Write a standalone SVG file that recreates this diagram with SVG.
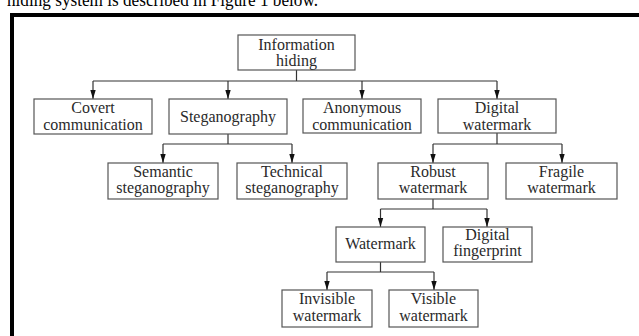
<svg xmlns="http://www.w3.org/2000/svg" width="639" height="336" viewBox="0 0 639 336">
<style>
.box{fill:#fff;stroke:#555;stroke-width:1.2}
.t{font-family:"Liberation Serif","DejaVu Serif",serif;font-size:16px;fill:#2a2a2a;text-anchor:middle}
.c{fill:none;stroke:#333;stroke-width:1.2}
</style>
<defs>
<marker id="ah" viewBox="0 0 10 6" refX="10" refY="3" markerWidth="9" markerHeight="6" markerUnits="userSpaceOnUse" orient="auto">
<path d="M0,0 L10,3 L0,6 z" fill="#111"/>
</marker>
</defs>
<rect width="639" height="336" fill="#fff"/>
<text x="7" y="5.5" font-family="Liberation Serif, serif" font-size="18" fill="#000" textLength="311" lengthAdjust="spacingAndGlyphs">hiding system is described in Figure 1 below.</text>
<path d="M12,340 V15 H645" fill="none" stroke="#000" stroke-width="4"/>
<g id="connectors">
<path class="c" d="M296.5,70 V81 M93,81 H497"/>
<path class="c" d="M93,81 V99" marker-end="url(#ah)"/>
<path class="c" d="M228,81 V99" marker-end="url(#ah)"/>
<path class="c" d="M362,81 V99" marker-end="url(#ah)"/>
<path class="c" d="M497,81 V99" marker-end="url(#ah)"/>
<path class="c" d="M228,134 V144 M163,144 H292"/>
<path class="c" d="M163,144 V163" marker-end="url(#ah)"/>
<path class="c" d="M292,144 V163" marker-end="url(#ah)"/>
<path class="c" d="M497,133 V144 M433,144 H562"/>
<path class="c" d="M433,144 V163" marker-end="url(#ah)"/>
<path class="c" d="M562,144 V163" marker-end="url(#ah)"/>
<path class="c" d="M433,199 V209 M380.5,209 H487"/>
<path class="c" d="M380.5,209 V227" marker-end="url(#ah)"/>
<path class="c" d="M487,209 V227" marker-end="url(#ah)"/>
<path class="c" d="M380.5,262 V272 M327,272 H434"/>
<path class="c" d="M327,272 V290" marker-end="url(#ah)"/>
<path class="c" d="M434,272 V290" marker-end="url(#ah)"/>
</g>
<g id="information-hiding"><rect class="box" x="238" y="35" width="117" height="35"/><text class="t" x="296.5" y="50">Information</text><text class="t" x="296.5" y="66">hiding</text></g>
<g id="covert"><rect class="box" x="34" y="99" width="118" height="35"/><text class="t" x="93" y="113">Covert</text><text class="t" x="93" y="130">communication</text></g>
<g id="steganography"><rect class="box" x="169" y="99" width="118" height="35"/><text class="t" x="228" y="122">Steganography</text></g>
<g id="anonymous"><rect class="box" x="303" y="99" width="118" height="34"/><text class="t" x="362" y="113">Anonymous</text><text class="t" x="362" y="130">communication</text></g>
<g id="digital-watermark"><rect class="box" x="438" y="99" width="118" height="34"/><text class="t" x="497" y="113">Digital</text><text class="t" x="497" y="130">watermark</text></g>
<g id="semantic"><rect class="box" x="108" y="163" width="110" height="36"/><text class="t" x="163" y="177">Semantic</text><text class="t" x="163" y="193">steganography</text></g>
<g id="technical"><rect class="box" x="237" y="163" width="110" height="36"/><text class="t" x="292" y="177">Technical</text><text class="t" x="292" y="193">steganography</text></g>
<g id="robust"><rect class="box" x="378" y="163" width="110" height="36"/><text class="t" x="433" y="177">Robust</text><text class="t" x="433" y="193">watermark</text></g>
<g id="fragile"><rect class="box" x="506" y="163" width="111" height="36"/><text class="t" x="561.5" y="177">Fragile</text><text class="t" x="561.5" y="193">watermark</text></g>
<g id="watermark"><rect class="box" x="336" y="227" width="89" height="35"/><text class="t" x="380.5" y="249">Watermark</text></g>
<g id="fingerprint"><rect class="box" x="443" y="227" width="89" height="35"/><text class="t" x="487.5" y="240">Digital</text><text class="t" x="487.5" y="256">fingerprint</text></g>
<g id="invisible"><rect class="box" x="282" y="290" width="90" height="37"/><text class="t" x="327" y="304">Invisible</text><text class="t" x="327" y="321">watermark</text></g>
<g id="visible"><rect class="box" x="389" y="290" width="89" height="37"/><text class="t" x="433.5" y="304">Visible</text><text class="t" x="433.5" y="321">watermark</text></g>
</svg>
